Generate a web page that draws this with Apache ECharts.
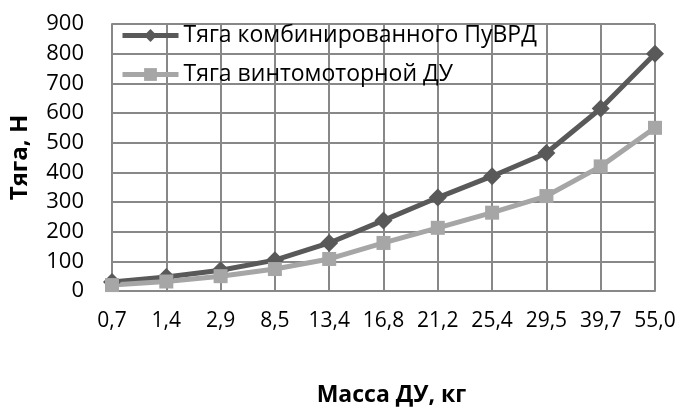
<!DOCTYPE html>
<html lang="ru">
<head>
    <meta charset="utf-8" />
    <title>Тяга</title>
    <script src="https://cdn.jsdelivr.net/npm/echarts@6/dist/echarts.min.js"></script>
    <style>
        html, body { margin: 0; padding: 0; background: #fff; }
        #chart { width: 681px; height: 412px; }
    </style>
</head>
<body>
    <div id="chart"></div>
    <script>
        // масса ДУ, кг
        var categories = ['0,7', '1,4', '2,9', '8,5', '13,4', '16,8', '21,2', '25,4', '29,5', '39,7', '55,0'];
        // тяга комбинированного ПуВРД, Н
        var combined = [30, 47, 70, 104, 162, 238, 315, 387, 465, 615, 800];
        // тяга винтомоторной ДУ, Н
        var propeller = [20, 32, 50, 74, 108, 162, 213, 264, 320, 420, 550];
        var yTicks = [0, 100, 200, 300, 400, 500, 600, 700, 800, 900];

        var font = 'Open Sans';
        var gridColor = '#888';

        // сетка дублируется markLine-ами по тем же делениям осей
        var gridMarks = yTicks.map(function (v) { return { yAxis: v }; })
            .concat(categories.map(function (c) { return { xAxis: c }; }));

        var myChart = echarts.init(document.getElementById('chart'));
        var option = {
            animation: false,
            grid: { left: 110, right: 26, top: 24, bottom: 121 },
            legend: {
                left: 115,
                top: 19,
                orient: 'vertical',
                itemWidth: 56,
                itemHeight: 16,
                itemGap: 16,
                lineStyle: { width: 5 },
                textStyle: { fontFamily: font, fontSize: 23, color: '#000' },
                data: ['Тяга комбинированного ПуВРД', 'Тяга винтомоторной ДУ']
            },
            xAxis: {
                type: 'category',
                data: categories,
                boundaryGap: false,
                name: 'Масса ДУ, кг',
                nameLocation: 'middle',
                nameGap: 93,
                nameTextStyle: { fontFamily: font, fontSize: 23, fontWeight: 'bold', color: '#000', padding: [0, 0, 0, 16] },
                axisLine: { show: true, lineStyle: { color: gridColor, width: 2 } },
                axisTick: { show: false },
                axisLabel: { interval: 0, fontFamily: font, fontSize: 21, color: '#000', margin: 20 },
                splitLine: { show: true, lineStyle: { color: gridColor, width: 2 } }
            },
            yAxis: {
                type: 'value',
                min: yTicks[0],
                max: yTicks[yTicks.length - 1],
                interval: 100,
                name: 'Тяга, Н',
                nameLocation: 'middle',
                nameGap: 80,
                nameRotate: 90,
                nameTextStyle: { fontFamily: font, fontSize: 24, fontWeight: 'bold', color: '#000' },
                axisLine: { show: true, lineStyle: { color: gridColor, width: 2 } },
                axisTick: { show: false },
                axisLabel: { fontFamily: font, fontSize: 22, color: '#000', margin: 28 },
                splitLine: { show: true, lineStyle: { color: gridColor, width: 2 } }
            },
            series: [{
                name: 'grid',
                type: 'line',
                data: propeller,
                symbol: 'none',
                silent: true,
                z: 1,
                lineStyle: { opacity: 0 },
                markLine: {
                    silent: true,
                    z: 1,
                    symbol: ['none', 'none'],
                    label: { show: false },
                    lineStyle: { color: gridColor, width: 2, type: 'solid' },
                    data: gridMarks
                }
            }, {
                name: 'Тяга комбинированного ПуВРД',
                type: 'line',
                data: combined,
                symbol: 'diamond',
                symbolSize: 18,
                z: 3,
                itemStyle: { color: '#595959' },
                lineStyle: { color: '#595959', width: 5 }
            }, {
                name: 'Тяга винтомоторной ДУ',
                type: 'line',
                data: propeller,
                symbol: 'rect',
                symbolSize: 14,
                z: 3,
                itemStyle: { color: '#a6a6a6' },
                lineStyle: { color: '#a6a6a6', width: 5 }
            }]
        };
        myChart.setOption(option);
    </script>
</body>
</html>
